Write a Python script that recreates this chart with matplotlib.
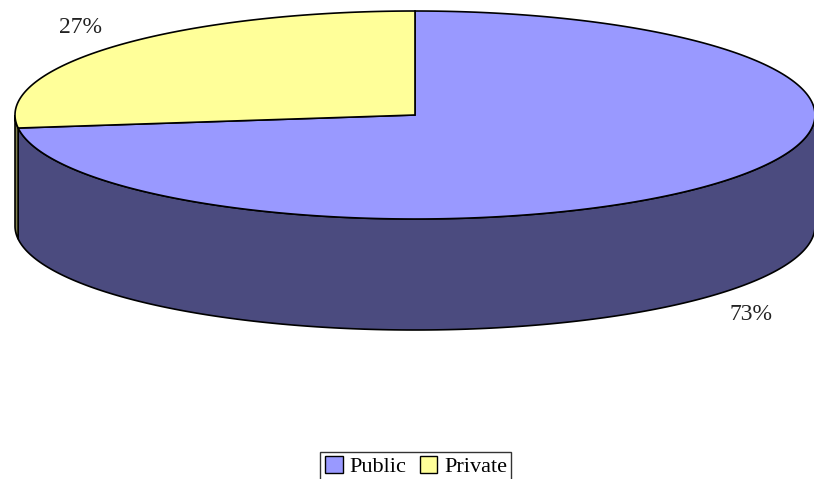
import numpy as np
import matplotlib.pyplot as plt
from matplotlib.patches import Polygon, Rectangle

labels = ['Public', 'Private']
values = [73, 27]
top_colors = ['#9999FF', '#FFFF99']
side_colors = ['#4B4B7F', '#7F7F4C']

# ellipse geometry in pixel space
cx, cy = 415, 115
rx, ry = 400, 104
depth = 111

fig = plt.figure(figsize=(8.14, 4.79), dpi=100)
ax = fig.add_axes([0, 0, 1, 1])
ax.set_xlim(0, 814)
ax.set_ylim(479, 0)
ax.axis('off')


def pt(a, dy=0):
    a = np.radians(a)
    return cx + rx * np.cos(a), cy - ry * np.sin(a) + dy


# slice angles: Private starts at 12 o'clock going counter-clockwise
total = sum(values)
spans = {}
start = 90
for lab, v in zip(labels[::-1], values[::-1]):
    end = start + 360 * v / total
    spans[lab] = (start, end)
    start = end

# sides (only front half visible: 180..360 deg)
for lab, sc in zip(labels, side_colors):
    a0, a1 = spans[lab]
    lo, hi = max(a0, 180), min(a1, 360)
    if hi <= lo:
        continue
    t = np.linspace(lo, hi, 200)
    top = [pt(a) for a in t]
    bot = [pt(a, depth) for a in t[::-1]]
    ax.add_patch(Polygon(top + bot, closed=True, facecolor=sc,
                         edgecolor='black', lw=1.2, zorder=1))

# tops
for lab, tc in zip(labels, top_colors):
    a0, a1 = spans[lab]
    t = np.linspace(a0, a1, 300)
    pts = [(cx, cy)] + [pt(a) for a in t]
    ax.add_patch(Polygon(pts, closed=True, facecolor=tc,
                         edgecolor='black', lw=1.2, zorder=2))

# percentage labels
pcts = {lab: f"{round(100 * v / total)}%" for lab, v in zip(labels, values)}
ax.text(80, 27, pcts['Private'], fontsize=17, family='Liberation Serif',
        ha='center', va='center', color='#222222')
ax.text(751, 315, pcts['Public'], fontsize=17, family='Liberation Serif',
        ha='center', va='center', color='#222222')

handles = [Rectangle((0, 0), 1, 1, facecolor=c, edgecolor='black', lw=1)
           for c in top_colors]
leg = fig.legend(handles, labels, loc='upper center', ncol=2,
                 bbox_to_anchor=(0.511, 0.057), frameon=True, fancybox=False,
                 prop={'family': 'Liberation Serif', 'size': 16},
                 handlelength=0.8, handleheight=0.8, handletextpad=0.3,
                 columnspacing=0.6, borderpad=0.2, borderaxespad=0)
leg.get_frame().set_edgecolor('black')
leg.get_frame().set_linewidth(1)

plt.savefig('out.png', dpi=100)
